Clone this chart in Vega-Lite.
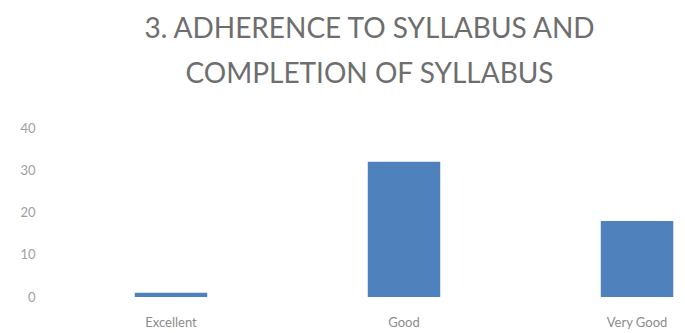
{
  "$schema": "https://vega.github.io/schema/vega-lite/v6.json",
  "width": 631,
  "height": 169,
  "autosize": {"type": "none"},
  "padding": {"left": 54, "top": 128, "right": 0, "bottom": 36},
  "background": "white",
  "title": {
    "text": ["3. ADHERENCE TO SYLLABUS AND", "COMPLETION OF SYLLABUS"],
    "font": "Lato",
    "fontSize": 28,
    "fontWeight": "normal",
    "color": "#6e6e6e",
    "lineHeight": 45,
    "anchor": "middle",
    "offset": 33
  },
  "data": {
    "values": [
      {"rating": "Excellent", "count": 1},
      {"rating": "Good", "count": 32},
      {"rating": "Very Good", "count": 18}
    ]
  },
  "mark": {"type": "bar", "color": "#4f81bd"},
  "encoding": {
    "x": {
      "field": "rating",
      "type": "nominal",
      "sort": null,
      "scale": {"paddingInner": 0.689, "paddingOuter": 0.1985, "align": 0.873},
      "axis": {
        "title": null,
        "labelAngle": 0,
        "domain": false,
        "ticks": false,
        "labelFont": "Lato",
        "labelFontSize": 13,
        "labelColor": "#8c8c8c",
        "labelPadding": 19
      }
    },
    "y": {
      "field": "count",
      "type": "quantitative",
      "scale": {"domain": [0, 40], "nice": false},
      "axis": {
        "title": null,
        "values": [0, 10, 20, 30, 40],
        "domain": false,
        "ticks": false,
        "grid": false,
        "labelFont": "Lato",
        "labelFontSize": 13,
        "labelColor": "#a0a0a0",
        "labelPadding": 19
      }
    }
  },
  "config": {"view": {"stroke": null}}
}
